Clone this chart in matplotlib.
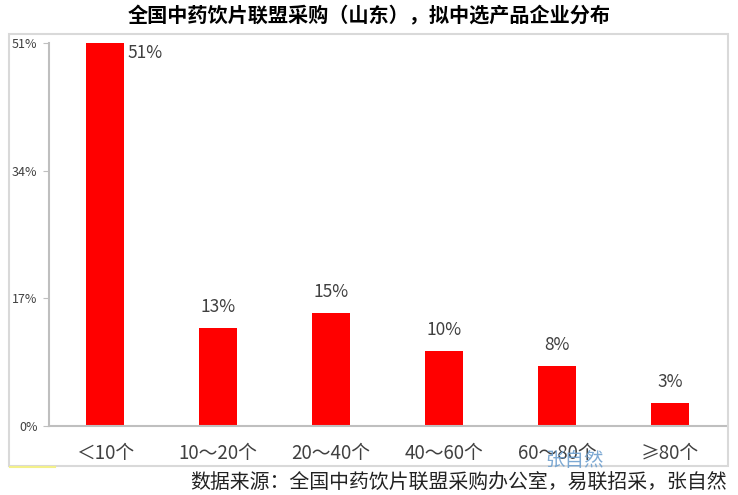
import matplotlib
matplotlib.use('Agg')
import matplotlib.pyplot as plt
from matplotlib.patches import Rectangle
from matplotlib.lines import Line2D

plt.rcParams['font.family'] = ['Noto Sans CJK SC', 'DejaVu Sans']

# 数据
categories = ['＜10个', '10～20个', '20～40个', '40～60个', '60～80个', '≥80个']
values = [51, 13, 15, 10, 8, 3]
yticks = [0, 17, 34, 51]

W, H = 738, 495
fig = plt.figure(figsize=(W / 100, H / 100), dpi=100)

# 外框
fig.patches.append(Rectangle((9 / W, 1 - 466 / H), 719 / W, 432 / H,
                             transform=fig.transFigure, fill=False,
                             edgecolor='#d9d9d9', linewidth=1.5))
fig.lines.append(Line2D([10 / W, 55 / W], [1 - 467 / H, 1 - 467 / H],
                        transform=fig.transFigure, color='#f3f08a', linewidth=1.5))

ax = fig.add_axes([48.5 / W, 1 - 426 / H, 678 / W, 383 / H])
x = list(range(len(categories)))
ax.bar(x, values, width=0.33, color='#ff0000')
ax.set_xlim(-0.5, len(categories) - 0.5)
ax.set_ylim(0, 51)

for i, v in enumerate(values):
    if i == 0:
        ax.text(i + 0.2, v - 1.3, f'{v}%', ha='left', va='center',
                fontsize=12.5, color='#404040')
    else:
        ax.text(i, v + 1.6, f'{v}%', ha='center', va='bottom',
                fontsize=12.5, color='#404040')

ax.set_yticks(yticks)
ax.set_yticklabels([f'{t}%' for t in yticks], fontsize=9, color='#404040')
ax.tick_params(axis='y', length=4, color='#bfbfbf', pad=4)
ax.set_xticks(x)
ax.set_xticklabels(categories, fontsize=13.5, color='#404040')
ax.tick_params(axis='x', length=0, pad=12)

for s in ['top', 'right']:
    ax.spines[s].set_visible(False)
for s in ['left', 'bottom']:
    ax.spines[s].set_color('#bfbfbf')
    ax.spines[s].set_linewidth(1.5)

fig.text(369 / W, 1 - 16 / H, '全国中药饮片联盟采购（山东），拟中选产品企业分布',
         ha='center', va='center', fontsize=14.5, fontweight='bold', color='#000000')
fig.text(727 / W, 1 - 483 / H, '数据来源：全国中药饮片联盟采购办公室，易联招采，张自然',
         ha='right', va='center', fontsize=14.3, color='#222222')
# 水印（原图中与坐标标签部分重叠）
fig.text(575 / W, 1 - 461 / H, '张自然', ha='center', va='center',
         fontsize=14, color='#6fa0cf', alpha=0.9)

fig.savefig('out.png', dpi=100)
